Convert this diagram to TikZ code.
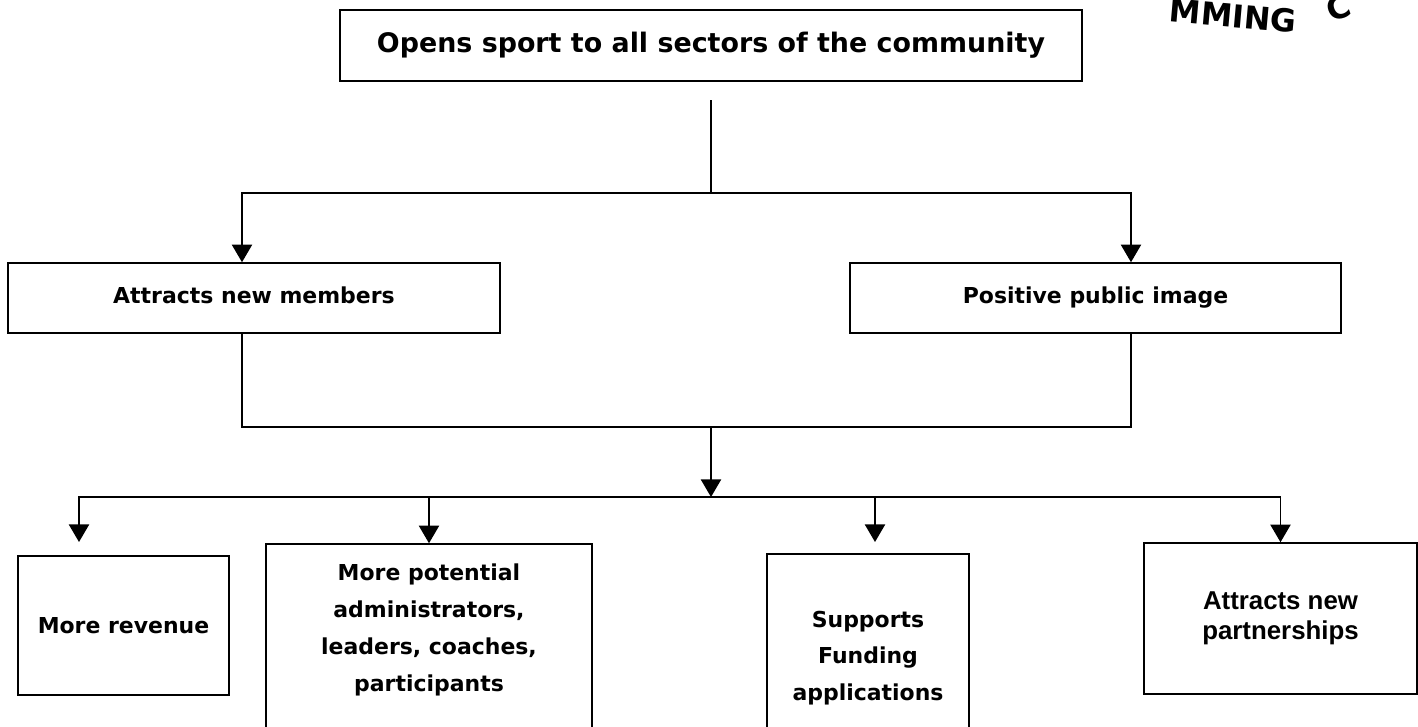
\documentclass[tikz,border=0pt]{standalone}
\usepackage{fontspec}
\setmainfont{DejaVu Sans}
\newfontfamily\arialfont{Liberation Sans}
\usetikzlibrary{arrows.meta}
\begin{document}
\begin{tikzpicture}[x=0.02cm, y=-0.02cm,
        txt/.style   = {align=center, font=\bfseries\fontsize{12.5}{20.9}\selectfont},
        box/.style   = {txt, draw, line width=0.9pt},
        onerow/.style = {text height=6.5pt, text depth=0.8pt},
        conn/.style  = {line width=0.8pt},
        arrow/.style = {conn, -{Triangle[width=11.5pt,length=10pt]}}]
    \useasboundingbox (0,0) rectangle (1418,727);

    % logo, cut off at the corner
    \node[font=\bfseries\fontsize{18}{18}\selectfont, rotate=-5] (logoa) at (1233,16) {MMING};
    \node[font=\bfseries\fontsize{18}{18}\selectfont, rotate=20] (logob) at (1338,8) {C};

    % boxes
    \node[box, line width=1.2pt, minimum width=14.84cm, minimum height=1.42cm,
          font=\bfseries\fontsize{15.3}{18}\selectfont] (open) at (711,45.5) {Opens sport to all sectors of the community};
    \node[box, onerow, minimum width=9.84cm, minimum height=1.4cm] (members) at (254,298) {Attracts new members};
    \node[box, onerow, minimum width=9.82cm, minimum height=1.4cm] (image) at (1095.5,298) {Positive public image};

    \node[box, minimum width=4.22cm, minimum height=2.78cm] (revenue) at (123.5,625.5) {More revenue};
    \node[box, minimum width=6.52cm, minimum height=4.2cm] (people) at (429,649) {};
    \node[txt] (peopletext) at (429,630) {More potential\\administrators,\\leaders, coaches,\\participants};
    \node[box, minimum width=4.04cm, minimum height=4.16cm] (funding) at (868,658) {Supports\\Funding\\applications};
    \node[box, minimum width=5.46cm, minimum height=3.02cm,
          font=\arialfont\bfseries\fontsize{14.7}{17}\selectfont] (partners) at (1280.5,618.5) {Attracts new\\partnerships};

    % connectors
    \coordinate (split1)  at (711,193);
    \coordinate (join)    at (711,427);
    \coordinate (split2)  at (711,497);
    \coordinate (revtip)  at (79,542);
    \coordinate (fundtip) at (875,542);

    \draw[conn, shorten <=0.36cm] (open.south) -- (split1);
    \draw[arrow] (split1) -| ([xshift=-0.24cm]members.north);
    \draw[arrow] (split1) -| ([xshift=0.71cm]image.north);
    \draw[conn] ([xshift=-0.24cm]members.south) |- (join) -| ([xshift=0.71cm]image.south);
    \draw[arrow] (join) -- (split2);
    \draw[arrow] (split2) -| (revtip);
    \draw[arrow] (split2) -| (people.north);
    \draw[arrow] (split2) -| (fundtip);
    \draw[arrow] (split2) -| (partners.north);
\end{tikzpicture}
\end{document}
